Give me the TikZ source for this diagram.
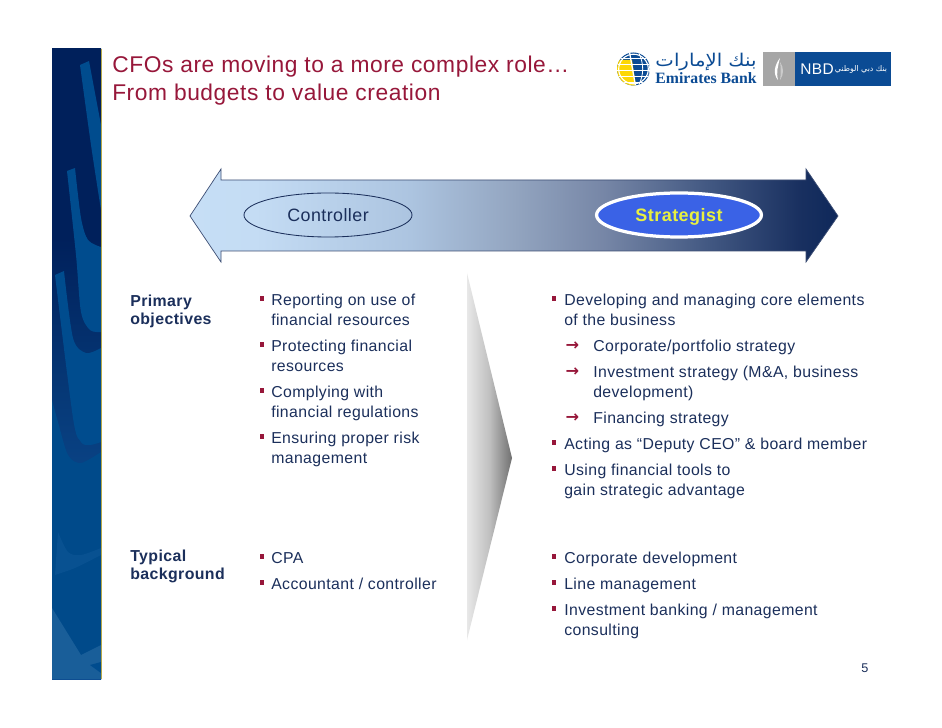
\documentclass[tikz,border=0pt]{standalone}
\usepackage{xcolor}
\usepackage{fontspec}
\setmainfont[LetterSpace=2.5]{Liberation Sans}
\newfontfamily\arrowfont{DejaVu Sans}
\newfontfamily\arabicfont[Script=Arabic]{DejaVu Sans}
\newfontfamily\logofont{Liberation Serif}
\TeXXeTstate=1
\usetikzlibrary{calc,arrows.meta,shapes.geometric}

\definecolor{navytext}{HTML}{1B2F5B}
\definecolor{titlered}{HTML}{97173A}
\definecolor{sidenavy}{HTML}{00205B}
\definecolor{sideblue}{HTML}{004C8E}
\definecolor{sidegold}{HTML}{B5A84A}
\definecolor{nbdblue}{HTML}{0B4B94}
\definecolor{ovalblue}{HTML}{3A62E6}
\definecolor{ovaltext}{HTML}{E8F040}

\pgfdeclarehorizontalshading{roleshade}{100bp}{
  rgb(0bp)=(.776,.871,.961);
  rgb(25bp)=(.776,.871,.961);
  rgb(30bp)=(.769,.863,.957);
  rgb(42bp)=(.675,.769,.878);
  rgb(50bp)=(.576,.647,.753);
  rgb(57bp)=(.463,.525,.651);
  rgb(65bp)=(.259,.345,.510);
  rgb(72bp)=(.098,.188,.376);
  rgb(75bp)=(.055,.157,.353);
  rgb(100bp)=(.055,.157,.353)}
\pgfdeclarehorizontalshading{chevronshade}{100bp}{
  rgb(0bp)=(.91,.91,.91);
  rgb(25bp)=(.91,.91,.91);
  rgb(50bp)=(.75,.75,.75);
  rgb(75bp)=(.44,.44,.44);
  rgb(100bp)=(.44,.44,.44)}
\pgfdeclareverticalshading{sideshade}{100bp}{
  rgb(0bp)=(.055,.298,.573);
  rgb(25bp)=(.055,.298,.573);
  rgb(38bp)=(.043,.282,.549);
  rgb(48bp)=(.024,.220,.463);
  rgb(60bp)=(0,.125,.357);
  rgb(100bp)=(0,.125,.357)}

\tikzset{
  bodytext/.style={anchor=north west,inner sep=0pt,align=left,text=navytext,
    font=\fontsize{11.25}{14.17}\selectfont},
  headtext/.style={anchor=north west,inner sep=0pt,align=left,text=navytext,
    font=\fontsize{11.3}{12.76}\selectfont\bfseries},
  titletext/.style={anchor=north west,inner sep=0pt,align=left,text=titlered,
    font=\fontsize{16.2}{19.85}\selectfont},
  sqbullet/.style={fill=titlered,inner sep=0pt,minimum width=3.5pt,minimum height=3.5pt},
  subarrow/.style={inner sep=0pt,text=titlered,font=\arrowfont\bfseries\fontsize{11.5}{12}\selectfont},
  roleoval/.style={ellipse,minimum width=4.2cm,minimum height=1.1cm,inner sep=0pt,
    text height=11pt,text depth=2pt},
}

% one bullet with its text, y is the middle of the first line
\newcommand{\bulletitem}[5]{
  \node[sqbullet] (#1b) at (#2,#4-1.5) {};
  \node[bodytext] (#1) at (#3,#4-9) {\strut #5};
}
\newcommand{\arrowitem}[3]{
  \node[subarrow] (#1a) at (572.5,#2) {→};
  \node[bodytext] (#1) at (593,#2-9) {\strut #3};
}

\begin{document}
\begin{tikzpicture}[x=0.025cm,y=-0.025cm]
  \useasboundingbox (0,0) rectangle (942,728);
  \fill[white] (0,0) rectangle (942,728);

  % side strip
  \begin{scope}
    \clip (52,49) rectangle (101,679);
    \shade[shading=sideshade] (52,49) rectangle (101,679);
    \fill[sideblue] (80,65) -- (89,61) -- (101,125) -- (101,210)
      -- plot[smooth] coordinates {(101,210) (91,145) (80,65)} -- cycle;
    \fill[sideblue] plot[smooth] coordinates {(75,168) (81,218) (88,240) (101,247)}
      -- (101,332) -- plot[smooth] coordinates {(101,332) (90,330) (81,312) (76,255) (67,171)} -- cycle;
    \fill[sideblue] plot[smooth] coordinates {(64,271) (73,338) (86,353) (101,348)}
      -- (101,442) -- plot[smooth] coordinates {(101,442) (90,445) (81,442) (73,418) (55,275)} -- cycle;
    \fill[sideblue!97!black] plot[smooth] coordinates {(52,400) (58,422) (68,455) (81,463) (101,452)}
      -- (101,679) -- (52,679) -- cycle;
    \fill[sideblue!97!white] plot[smooth] coordinates {(55,575) (75,568) (101,555)}
      -- (101,548) -- plot[smooth] coordinates {(101,548) (81,555) (68,552) (58,532)} -- cycle;
    \fill[sideblue!90!white] (52,608) -- (81,655) -- (101,645) -- (101,679) -- (52,679) -- cycle;
    \fill[sideblue] (90,665) -- (101,662) -- (101,673) -- cycle;
  \end{scope}
  \draw[sidegold,line width=0.7pt] (101.3,49) -- (101.3,679); %gold edge

  % title
  \node[titletext] (title) at (112,53) {\strut CFOs are moving to a more complex role…\\From budgets to value creation};

  % logos
  \coordinate (G) at (633.5,69);
  \fill[nbdblue] (G) circle[radius=16.5];
  \begin{scope}
    \clip (G) circle[radius=16.5];
    \fill[yellow!75!orange] (617,60) -- (632,60) -- (636,86) -- (617,86) -- cycle;
    \foreach \yy in {58,64,70,76,82} {\draw[white,line width=0.6pt] (617,\yy) -- (651,\yy);}
    \foreach \xx in {5,12} {\draw[white,line width=0.6pt] ($(G)+(\xx,-17)$) to[bend left=25] ($(G)+(\xx,17)$);}
    \draw[white,line width=0.9pt] ($(G)+(-4,-17)$) -- ($(G)+(2,17)$);
  \end{scope}
  \draw[white,line width=0.8pt] (G) circle[radius=14.8];
  \node[inner sep=0pt,text=nbdblue,xscale=1.12,font=\arabicfont\fontsize{12.5}{14}\selectfont] (ebarabic) at (706,62) {\beginR بنك الإمارات\endR};
  \node[inner sep=0pt,text=nbdblue,font=\logofont\bfseries\fontsize{11.2}{12}\selectfont] (ebname) at (706,78) {Emirates Bank};
  \fill[black!35] (763,52) rectangle (795,86);
  \fill[nbdblue] (795,52) rectangle (891,86);
  \fill[white] (780,58) .. controls (774,66) and (773,74) .. (778,80) .. controls (776,72) and (778,66) .. (780,58);
  \fill[white!80!black] (780,62) .. controls (784,68) and (784,74) .. (780,80) .. controls (781,74) and (781,68) .. (780,62);
  \node[inner sep=0pt,text=white,font=\fontsize{11}{12}\selectfont] (nbdname) at (817,69) {NBD};
  \node[inner sep=0pt,text=white,font=\arabicfont\fontsize{5.6}{7}\selectfont] (nbdarabic) at (861,69) {\beginR بنك دبي الوطني\endR};

  % double arrow
  \path[shading=roleshade,draw=navytext!85,line width=0.5pt] (190,216) -- (221,169) -- (221,180) -- (806,180)
    -- (806,169) -- (838,216) -- (806,262) -- (806,251) -- (221,251) -- (221,262) -- cycle;
  \node[roleoval,draw=navytext,line width=0.6pt,text=navytext,font=\fontsize{12.7}{14}\selectfont] (controller) at (328,215) {Controller};
  \node[roleoval,draw=white,fill=ovalblue,line width=2.3pt,minimum width=4.12cm,text=ovaltext,font=\fontsize{12.8}{14}\selectfont\bfseries] (strategist) at (679,215) {Strategist};

  % chevron
  \path[shading=chevronshade] (467,273) -- (512,458) -- (467,640) -- cycle;

  % row headings
  \node[headtext] (primary) at (130,294) {\strut Primary\\objectives};
  \node[headtext] (typical) at (130,549) {\strut Typical\\background};

  % controller column
  \bulletitem{ca}{262}{271}{300}{Reporting on use of\\financial resources}
  \bulletitem{cb}{262}{271}{346}{Protecting financial\\resources}
  \bulletitem{cc}{262}{271}{392}{Complying with\\financial regulations}
  \bulletitem{cd}{262}{271}{438}{Ensuring proper risk\\management}
  \bulletitem{ce}{262}{271}{558}{CPA}
  \bulletitem{cf}{262}{271}{584}{Accountant / controller}

  % strategist column
  \bulletitem{sa}{554}{564}{300}{Developing and managing core elements\\of the business}
  \arrowitem{sb}{346}{Corporate/portfolio strategy}
  \arrowitem{sc}{372}{Investment strategy (M\&A, business\\development)}
  \arrowitem{sd}{418}{Financing strategy}
  \bulletitem{se}{554}{564}{444}{Acting as “Deputy CEO” \& board member}
  \bulletitem{sf}{554}{564}{470}{Using financial tools to\\gain strategic advantage}
  \bulletitem{sg}{554}{564}{558}{Corporate development}
  \bulletitem{sh}{554}{564}{584}{Line management}
  \bulletitem{si}{554}{564}{610}{Investment banking / management\\consulting}

  \node[inner sep=0pt,text=navytext,font=\fontsize{9}{11}\selectfont] (pagenum) at (865,668) {5};
\end{tikzpicture}
\end{document}
